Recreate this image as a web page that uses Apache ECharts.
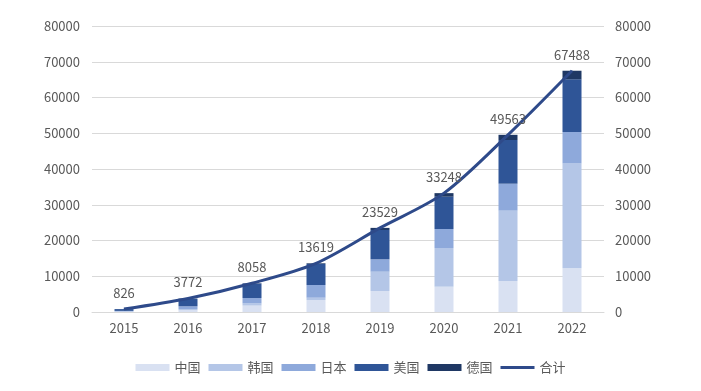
<!DOCTYPE html>
<html><head><meta charset="utf-8">
<script src="https://cdn.jsdelivr.net/npm/echarts@6/dist/echarts.min.js"></script>
<style>html,body{margin:0;padding:0;background:#fff}#c{width:701px;height:391px}</style>
</head><body><div id="c"></div>
<script>
const categories = ['2015','2016','2017','2018','2019','2020','2021','2022'];
const china   = [100, 500, 1800, 3360, 5870, 7080, 8670, 12220];
const korea   = [60, 300, 600, 640, 5400, 10820, 19670, 29370];
const japan   = [150, 800, 1500, 3550, 3470, 5320, 7550, 8760];
const usa     = [500, 2100, 4050, 5880, 8200, 9030, 12220, 14740];
const germany = [16, 72, 108, 189, 589, 998, 1453, 2398];
const total   = [826, 3772, 8058, 13619, 23529, 33248, 49563, 67488];
const yTicks  = [0, 10000, 20000, 30000, 40000, 50000, 60000, 70000, 80000];

const font = '"Noto Sans CJK SC", "Liberation Sans", sans-serif';
const txt = '#595959';
const chart = echarts.init(document.getElementById('c'), null, {renderer: 'canvas'});
const barS = (name, data, color) => ({
  name, type: 'bar', stack: 'a', data, barWidth: 19,
  itemStyle: {color}, yAxisIndex: 0
});
const plain = v => String(v);
chart.setOption({
  animation: false,
  textStyle: {fontFamily: font},
  grid: {left: 92, right: 97, top: 26, bottom: 79},
  legend: {
    bottom: 12, left: 'center', itemWidth: 34, itemHeight: 7, itemGap: 8,
    textStyle: {color: txt, fontSize: 13, fontFamily: font},
    data: [
      {name: '中国', icon: 'rect'}, {name: '韩国', icon: 'rect'}, {name: '日本', icon: 'rect'},
      {name: '美国', icon: 'rect'}, {name: '德国', icon: 'rect'},
      {name: '合计', icon: 'path://M0,0 L34,0 L34,3 L0,3 Z'}
    ]
  },
  xAxis: {
    type: 'category', data: categories,
    axisLine: {show: true, lineStyle: {color: '#D9D9D9'}},
    axisTick: {show: false},
    axisLabel: {color: txt, fontSize: 13, margin: 10}
  },
  yAxis: [
    {type: 'value', min: yTicks[0], max: yTicks[yTicks.length-1], interval: 10000,
     axisLine: {show: false}, axisTick: {show: false},
     splitLine: {lineStyle: {color: '#D9D9D9'}},
     axisLabel: {color: txt, fontSize: 13, margin: 12, formatter: plain}},
    {type: 'value', min: yTicks[0], max: yTicks[yTicks.length-1], interval: 10000, position: 'right',
     axisLine: {show: false}, axisTick: {show: false}, splitLine: {show: false},
     axisLabel: {color: txt, fontSize: 13, margin: 11, formatter: plain}}
  ],
  series: [
    barS('中国', china, '#D9E1F2'),
    barS('韩国', korea, '#B4C6E7'),
    barS('日本', japan, '#8EA9DB'),
    barS('美国', usa, '#2F5597'),
    barS('德国', germany, '#1F3864'),
    {
      name: '合计', type: 'line', data: total, smooth: 0.3,
      symbol: 'circle', symbolSize: 1, showSymbol: true,
      lineStyle: {color: '#2E4A8A', width: 3}, itemStyle: {color: '#2E4A8A'},
      label: {show: true, position: 'top', distance: 9, color: txt, fontSize: 13, fontFamily: font,
              formatter: p => String(p.value)},
      labelLayout: {hideOverlap: false},
      z: 5
    }
  ]
});
</script></body></html>
